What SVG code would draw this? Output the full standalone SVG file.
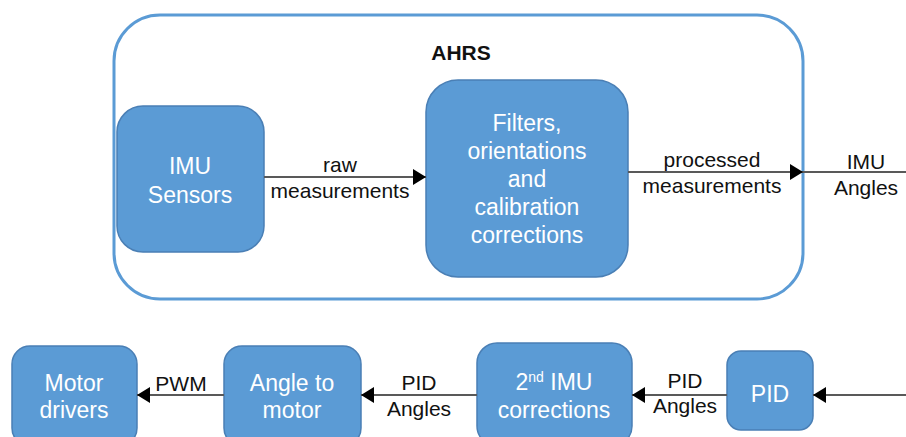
<svg xmlns="http://www.w3.org/2000/svg" width="906" height="437" viewBox="0 0 906 437">
<defs>
<marker id="ah" markerWidth="13" markerHeight="16" refX="13" refY="8" orient="auto" markerUnits="userSpaceOnUse">
<path d="M0,0 L13,8 L0,16 Z" fill="#000"/>
</marker>
<style>
.node{fill:#5B9BD5;stroke:#4A7FB5;stroke-width:1.5}
.nt{font-family:"Liberation Sans",Arial,sans-serif;font-size:23px;fill:#fff;text-anchor:middle}
.lb{font-family:"Liberation Sans",Arial,sans-serif;font-size:21px;fill:#111;text-anchor:middle}
.ln{stroke:#595959;stroke-width:2;fill:none}
</style>
</defs>
<rect width="906" height="437" fill="#fff"/>
<g id="ahrs">
<rect x="114" y="15" width="689" height="284" rx="46" fill="none" stroke="#5B9BD5" stroke-width="3"/>
<text x="461" y="60" font-family="Liberation Sans, Arial, sans-serif" font-size="21" font-weight="bold" text-anchor="middle" fill="#111">AHRS</text>
</g>
<g id="imu-sensors">
<rect class="node" x="117" y="106" width="147" height="146" rx="26"/>
<text class="nt" x="190" y="174">IMU</text>
<text class="nt" x="190" y="203">Sensors</text>
</g>
<g id="filters">
<rect class="node" x="426" y="80" width="202" height="197" rx="32"/>
<text class="nt" x="527" y="131">Filters,</text>
<text class="nt" x="527" y="159">orientations</text>
<text class="nt" x="527" y="187">and</text>
<text class="nt" x="527" y="215">calibration</text>
<text class="nt" x="527" y="243">corrections</text>
</g>
<g id="motor-drivers">
<rect class="node" x="12" y="346" width="125" height="100" rx="18"/>
<text class="nt" x="74" y="391">Motor</text>
<text class="nt" x="74" y="418">drivers</text>
</g>
<g id="angle-to-motor">
<rect class="node" x="224" y="346" width="137" height="100" rx="18"/>
<text class="nt" x="292" y="391">Angle to</text>
<text class="nt" x="292" y="418">motor</text>
</g>
<g id="imu-corrections">
<rect class="node" x="477" y="343" width="155" height="103" rx="20"/>
<text class="nt" x="554" y="390">2<tspan font-size="14" dy="-8">nd</tspan><tspan dy="8"> IMU</tspan></text>
<text class="nt" x="554" y="418">corrections</text>
</g>
<g id="pid">
<rect class="node" x="727" y="351" width="86" height="79" rx="14"/>
<text class="nt" x="770" y="402">PID</text>
</g>
<g id="connectors">
<line class="ln" x1="264" y1="177" x2="426" y2="177" marker-end="url(#ah)"/>
<line class="ln" x1="628" y1="172" x2="803" y2="172" marker-end="url(#ah)"/>
<line class="ln" x1="803" y1="172" x2="906" y2="172"/>
<line class="ln" x1="906" y1="395" x2="813" y2="395" marker-end="url(#ah)"/>
<line class="ln" x1="727" y1="395" x2="632" y2="395" marker-end="url(#ah)"/>
<line class="ln" x1="477" y1="395" x2="361" y2="395" marker-end="url(#ah)"/>
<line class="ln" x1="224" y1="395" x2="137" y2="395" marker-end="url(#ah)"/>
<text class="lb" x="340" y="172">raw</text>
<text class="lb" x="340" y="198">measurements</text>
<text class="lb" x="712" y="167">processed</text>
<text class="lb" x="712" y="193">measurements</text>
<text class="lb" x="866" y="169">IMU</text>
<text class="lb" x="866" y="195">Angles</text>
<text class="lb" x="181" y="391">PWM</text>
<text class="lb" x="419" y="390">PID</text>
<text class="lb" x="419" y="416">Angles</text>
<text class="lb" x="685" y="388">PID</text>
<text class="lb" x="685" y="413">Angles</text>
</g>
</svg>
